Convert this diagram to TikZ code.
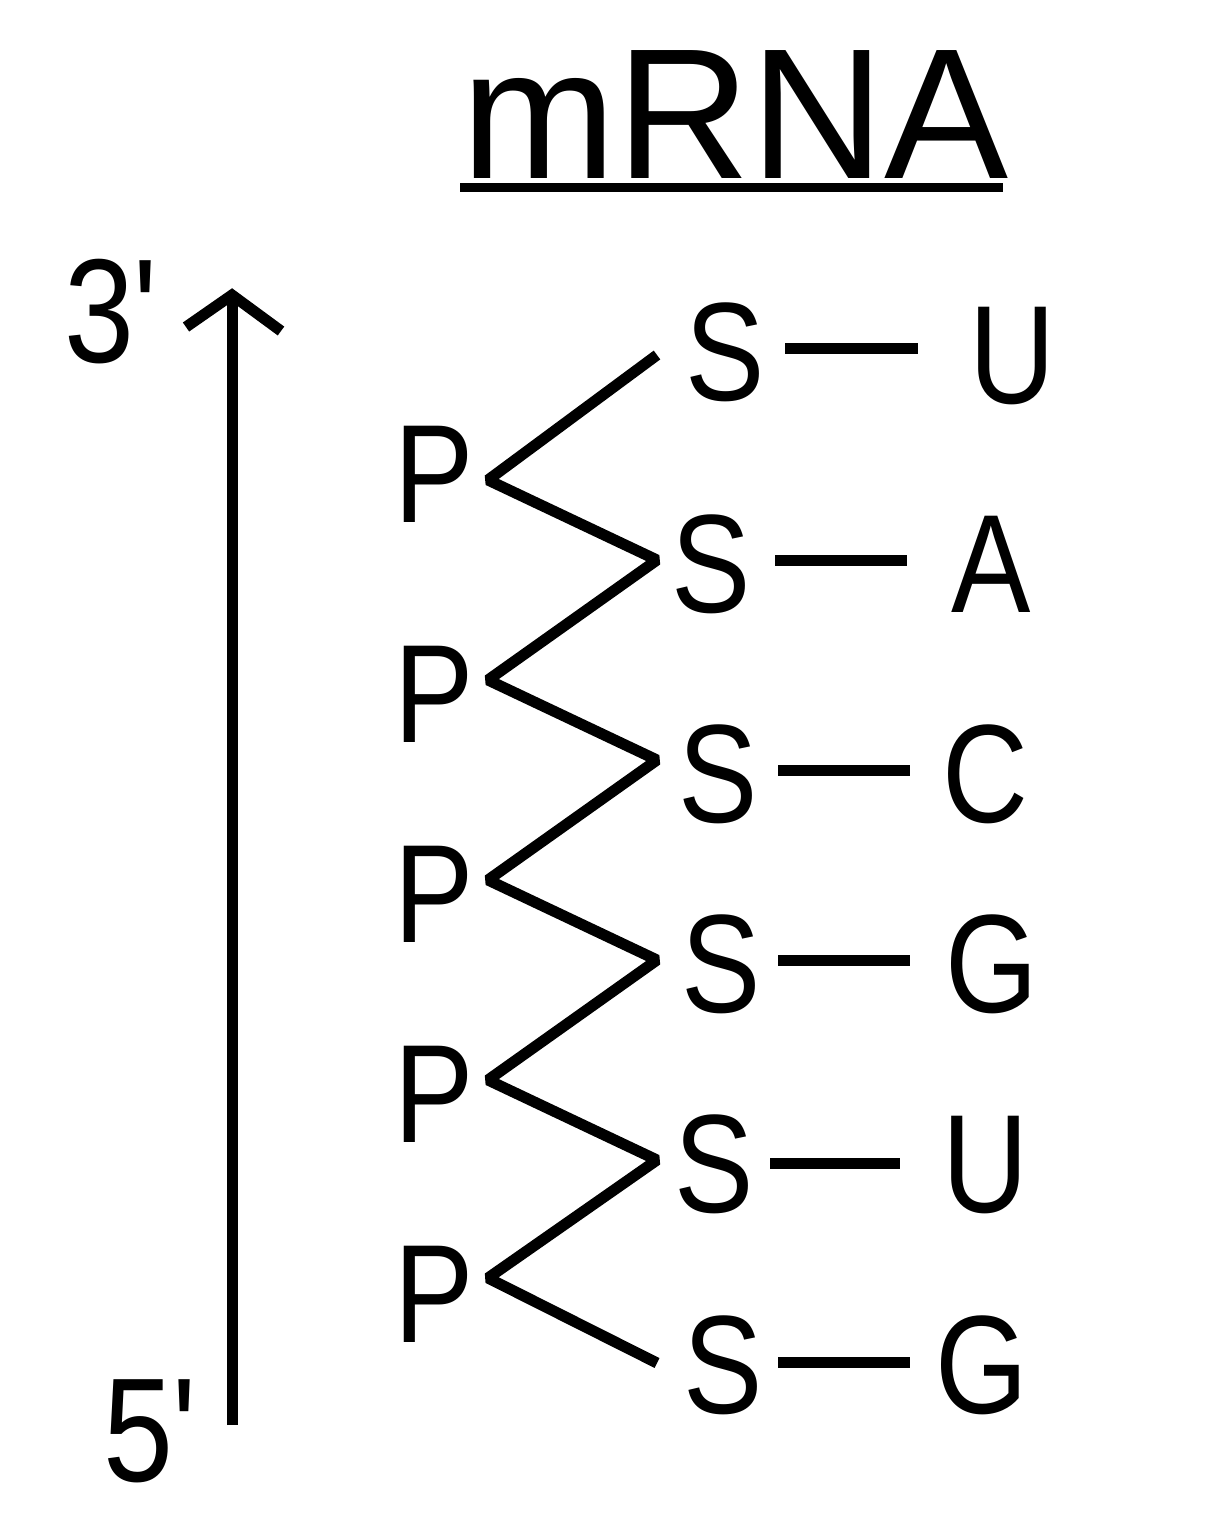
\documentclass[tikz,border=0pt]{standalone}
\usepackage{fontspec}
\setmainfont{Liberation Sans}
\newfontfamily\sqfont[FakeStretch=0.85]{Liberation Sans}
\begin{document}
\begin{tikzpicture}[x=0.5pt,y=-0.5pt,
  lbl/.style={inner sep=0pt,anchor=base,font=\sqfont\fontsize{70}{80}\selectfont},
  endlbl/.style={inner sep=0pt,anchor=base,font=\sqfont\fontsize{74}{84}\selectfont},
  ttl/.style={inner sep=0pt,anchor=base,font=\fontsize{93}{100}\selectfont},
  bond/.style={line width=5.5pt},
  chain/.style={line width=5.5pt,line join=bevel},
  strand/.style={line width=5.5pt}]
\useasboundingbox (0,0) rectangle (1228,1528);
% title
\node[ttl] (title) at (735,178) {mRNA};
\coordinate (ulA) at (460,187);
\coordinate (ulB) at (1003,187);
\draw[line width=4.5pt] (ulA) -- (ulB);
% direction arrow
\node[endlbl] (three) at (111,362) {3'};
\node[endlbl] (five) at (150,1481) {5'};
\coordinate (tail) at (232,1425);
\coordinate (tip) at (232,295);
\coordinate (wl) at (186,327);
\coordinate (wr) at (281,331);
\draw[strand] (tail) -- (tip);
\draw[strand,line join=miter] (wl) -- (tip) -- (wr);
% phosphates
\node[lbl] (P1) at (434,522) {P};
\node[lbl] (P2) at (434,742) {P};
\node[lbl] (P3) at (434,942) {P};
\node[lbl] (P4) at (434,1142) {P};
\node[lbl] (P5) at (434,1342) {P};
% sugars
\node[lbl] (S1) at (725,400) {S};
\node[lbl] (S2) at (711,612) {S};
\node[lbl] (S3) at (718,822) {S};
\node[lbl] (S4) at (721,1012) {S};
\node[lbl] (S5) at (714,1212) {S};
\node[lbl] (S6) at (723,1413) {S};
% bases
\node[lbl] (B1) at (1012,403) {U};
\node[lbl] (B2) at (991,612) {A};
\node[lbl] (B3) at (985,822) {C};
\node[lbl] (B4) at (992,1012) {G};
\node[lbl] (B5) at (985,1212) {U};
\node[lbl] (B6) at (982,1413) {G};
% backbone vertices
\coordinate (z0) at (657,355);
\coordinate (p1) at (488,480);
\coordinate (s2) at (657,560);
\coordinate (p2) at (488,680);
\coordinate (s3) at (657,760);
\coordinate (p3) at (488,880);
\coordinate (s4) at (657,960);
\coordinate (p4) at (488,1080);
\coordinate (s5) at (657,1160);
\coordinate (p5) at (488,1278);
\coordinate (s6) at (657,1363);
\draw[chain] (z0) -- (p1) -- (s2) -- (p2) -- (s3) -- (p3) -- (s4) -- (p4) -- (s5) -- (p5) -- (s6);
% sugar-base bonds
\coordinate (a1) at (785,348); \coordinate (c1) at (918,348);
\coordinate (a2) at (775,560); \coordinate (c2) at (907,560);
\coordinate (a3) at (778,770); \coordinate (c3) at (910,770);
\coordinate (a4) at (778,960); \coordinate (c4) at (910,960);
\coordinate (a5) at (770,1163); \coordinate (c5) at (900,1163);
\coordinate (a6) at (778,1362); \coordinate (c6) at (910,1362);
\foreach \i in {1,...,6} {\draw[bond] (a\i) -- (c\i);}
\end{tikzpicture}
\end{document}
